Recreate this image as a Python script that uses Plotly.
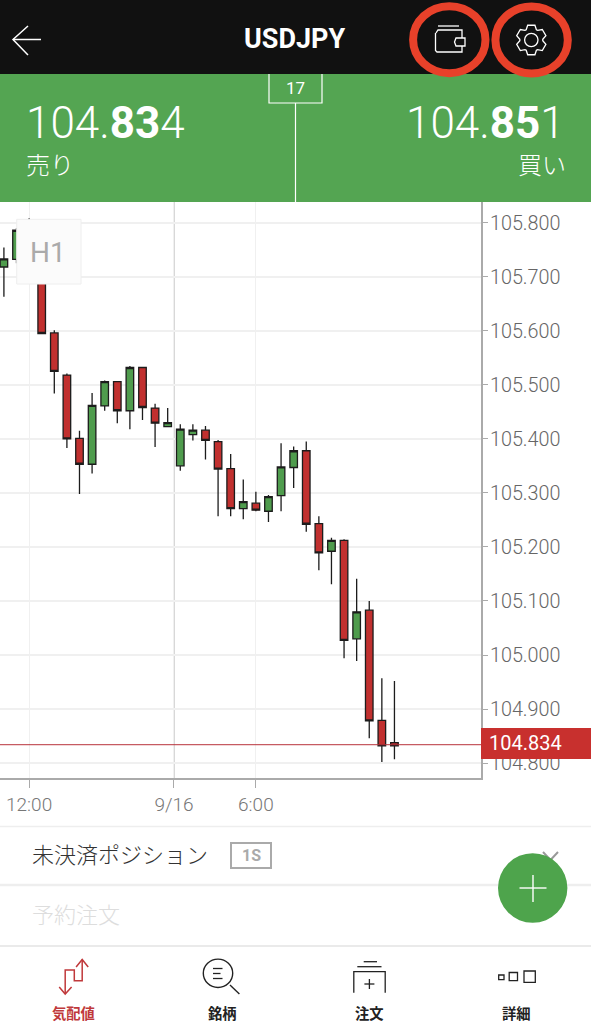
import math
import plotly.graph_objects as go

W, H = 591, 1024

# ローソク足 (H1)
candle_idx = list(range(32))
open_ = [105.718, 105.732, 105.800, 105.740, 105.596, 105.518, 105.401, 105.353,
         105.461, 105.506, 105.452, 105.532, 105.457, 105.4225, 105.350, 105.408,
         105.416, 105.395, 105.345, 105.271, 105.281, 105.266, 105.295, 105.347,
         105.378, 105.243, 105.192, 105.212, 105.030, 105.083, 104.879, 104.838]
high = [105.754, 105.790, 105.808, 105.745, 105.601, 105.521, 105.415, 105.485,
        105.508, 105.507, 105.535, 105.533, 105.465, 105.457, 105.427, 105.427,
        105.424, 105.398, 105.372, 105.325, 105.302, 105.296, 105.392, 105.386,
        105.395, 105.257, 105.217, 105.214, 105.141, 105.100, 104.957, 104.952]
low = [105.663, 105.725, 105.720, 105.595, 105.484, 105.383, 105.298, 105.336,
       105.452, 105.429, 105.418, 105.435, 105.385, 105.422, 105.341, 105.397,
       105.362, 105.257, 105.257, 105.251, 105.266, 105.246, 105.266, 105.309,
       105.228, 105.157, 105.131, 104.994, 104.989, 104.846, 104.802, 104.807]
close = [105.733, 105.786, 105.740, 105.595, 105.525, 105.400, 105.353, 105.462,
         105.506, 105.452, 105.532, 105.458, 105.429, 105.430, 105.418, 105.416,
         105.397, 105.344, 105.271, 105.284, 105.268, 105.293, 105.348, 105.378,
         105.242, 105.189, 105.212, 105.027, 105.080, 104.878, 104.832, 104.832]

price_ticks = [104.8, 104.9, 105.0, 105.1, 105.2, 105.3, 105.4, 105.5, 105.6, 105.7, 105.8]
price_labels = ["104.800", "104.900", "105.000", "105.100", "105.200", "105.300",
                "105.400", "105.500", "105.600", "105.700", "105.800"]
time_ticks = [2, 13.5, 20]
time_labels = ["12:00", "9/16", "6:00"]
day_tick = 13.5
current_price = 104.834

ROBOTO = "Roboto"
CJK = "Noto Sans CJK JP"
GREEN = "#54a552"
RED = "#c8302e"
ORANGE = "#e8412a"


def px(x):
    return x / W


def py(y):
    return 1 - y / H


def path(pts, closed=False):
    s = "M " + " L ".join(f"{px(x):.5f} {py(y):.5f}" for x, y in pts)
    return s + (" Z" if closed else "")


shapes = []
annotations = []


def rect(x0, y0, x1, y1, fill, line=None, lw=0, layer="above"):
    shapes.append(dict(type="rect", xref="paper", yref="paper", x0=px(x0), x1=px(x1),
                       y0=py(y0), y1=py(y1), fillcolor=fill, layer=layer,
                       line=dict(color=line or fill, width=lw)))


def ellipse(cx, cy, rx, ry, fill="rgba(0,0,0,0)", line=None, lw=0):
    shapes.append(dict(type="circle", xref="paper", yref="paper", x0=px(cx - rx), x1=px(cx + rx),
                       y0=py(cy - ry), y1=py(cy + ry), fillcolor=fill, layer="above",
                       line=dict(color=line or fill, width=lw)))


def stroke(pts, color, lw=1.5, closed=False):
    shapes.append(dict(type="path", xref="paper", yref="paper", path=path(pts, closed),
                       layer="above", line=dict(color=color, width=lw)))


def text(x, y, s, size, color, anchor="center", family=ROBOTO, weight=None):
    font = dict(family=family, size=size, color=color)
    if weight:
        font["weight"] = weight
    annotations.append(dict(xref="paper", yref="paper", x=px(x), y=py(y), text=s, showarrow=False,
                            xanchor=anchor, yanchor="middle", font=font, borderpad=0, borderwidth=0))


# 9/16 の濃い縦線
shapes.append(dict(type="line", xref="x", yref="paper", x0=day_tick, x1=day_tick,
                   y0=py(778), y1=py(202), layer="below", line=dict(color="#c9c9c9", width=1.5)))
# 現在値ライン
shapes.append(dict(type="line", xref="paper", yref="y", x0=0, x1=px(481),
                   y0=current_price, y1=current_price, layer="above", line=dict(color="#b8323a", width=1)))

# H1 ラベル
rect(16.7, 219.3, 81, 284, "#fbfbfb", "#eeeeee", 1)
text(47.5, 252, "H1", 28, "#aaaaaa")

# 現在値ボックス
rect(481, 728, 591, 759, RED)
text(488.5, 743, "104.834", 20, "#ffffff", "left")

# ヘッダー
rect(0, 0, 591, 74, "#111111")
rect(0, 74, 591, 202, GREEN)
stroke([(41, 39.5), (13, 39.5)], "#ffffff", 1.5)
stroke([(28, 26), (13, 39.5), (28, 55)], "#ffffff", 1.5)
text(294.5, 39, "<b>USDJPY</b>", 27, "#ffffff")

# 財布アイコン
stroke([(438, 26), (459, 26)], "#ffffff", 1.3)
stroke([(436, 33), (438, 30), (462, 30), (462, 38)], "#ffffff", 1.3)
stroke([(462, 46), (462, 52), (437, 52), (435.5, 50.5), (435.5, 33)], "#ffffff", 1.3)
stroke([(456, 38), (465, 38), (465, 46), (456, 46), (454.5, 42)], "#ffffff", 1.3, closed=True)

# 歯車アイコン
gear = []
for k in range(6):
    a = -math.pi / 2 + k * math.pi / 3
    for da, r in [(-0.46, 11.5), (-0.24, 15.2), (0.24, 15.2), (0.46, 11.5)]:
        gear.append((531.3 + r * math.cos(a + da), 40 + r * math.sin(a + da)))
stroke(gear, "#ffffff", 1.3, closed=True)
ellipse(531.3, 40, 6.7, 6.7, line="#ffffff", lw=1.3)

# 赤い丸印
ellipse(449.3, 39.7, 36.2, 33.5, line=ORANGE, lw=8)
ellipse(531.6, 39.9, 36.2, 33.5, line=ORANGE, lw=8)

# 売り / 買い
stroke([(269, 74), (269, 103), (322, 103), (322, 74)], "#ffffff", 1.2)
text(295.5, 88, "17", 17, "#ffffff")
stroke([(295.5, 103), (295.5, 202)], "#ffffff", 1.2)
text(26, 123, "104.<b>83</b>4", 44, "#ffffff", "left", weight=300)
text(565, 123, "104.<b>85</b>1", 44, "#ffffff", "right", weight=300)
text(26, 163.5, "売り", 24, "#ffffff", "left", CJK, 300)
text(566, 163.5, "買い", 24, "#ffffff", "right", CJK, 300)

# ポジション欄
stroke([(0, 826.5), (591, 826.5)], "#eeeeee", 1.5)
stroke([(0, 885), (591, 885)], "#eeeeee", 2.5)
stroke([(0, 946), (591, 946)], "#e3e3e3", 1.5)
text(32, 853, "未決済ポジション", 22, "#333333", "left", CJK, 300)
rect(231, 843, 271, 868, "#ffffff", "#aaaaaa", 2)
text(251, 855.5, "<b>1S</b>", 16, "#aaaaaa")
text(32, 913, "予約注文", 22, "#dddddd", "left", CJK, 300)
stroke([(543, 852), (550.5, 860), (558, 852)], "#999999", 2)
ellipse(532.7, 888, 34.7, 34.8, fill="#4ea44c")
stroke([(519.5, 888), (546.5, 888)], "#ffffff", 1.4)
stroke([(533, 875), (533, 902)], "#ffffff", 1.4)

# 下部タブ
TAB_RED = "#c0393b"
stroke([(65.2, 994), (65.2, 970), (74.3, 970), (74.3, 980.7), (82.2, 980.7), (82.2, 959.5)], TAB_RED, 1.5)
stroke([(59.2, 987), (65.2, 994), (71.6, 987)], TAB_RED, 1.5)
stroke([(76.1, 967), (82.2, 959.5), (88.2, 967)], TAB_RED, 1.5)
text(73.5, 1012.5, "<b>気配値</b>", 14.3, TAB_RED, family=CJK)

ellipse(218, 973.3, 14.7, 14.2, line="#222222", lw=1.4)
stroke([(230, 985), (239.4, 994)], "#222222", 1.4)
stroke([(213, 968.5), (222.5, 968.5)], "#222222", 1.3)
stroke([(213, 973.5), (220.5, 973.5)], "#222222", 1.3)
stroke([(213, 978.5), (222.5, 978.5)], "#222222", 1.3)
text(222, 1012.5, "<b>銘柄</b>", 14.3, "#222222", family=CJK)

stroke([(363.7, 961.7), (377, 961.7)], "#222222", 1.3)
stroke([(357.3, 966.7), (381.5, 966.7)], "#222222", 1.3)
stroke([(353.8, 992.7), (353.8, 971.7), (385.2, 971.7), (385.2, 992.7)], "#222222", 1.3)
stroke([(364.4, 984), (374.4, 984)], "#222222", 1.3)
stroke([(369.4, 979), (369.4, 989)], "#222222", 1.3)
text(369.4, 1012.5, "<b>注文</b>", 14.3, "#222222", family=CJK)

rect(498.7, 975, 504, 979.6, "#ffffff", "#222222", 1.3)
rect(509.2, 972.5, 517.5, 980.7, "#ffffff", "#222222", 1.3)
rect(524, 971, 535.3, 982.3, "#ffffff", "#222222", 1.3)
text(516.4, 1012.5, "<b>詳細</b>", 14.3, "#222222", family=CJK)

fig = go.Figure()
fig.add_trace(go.Candlestick(
    x=candle_idx, open=open_, high=high, low=low, close=close,
    whiskerwidth=0,
    increasing=dict(fillcolor="#4f9c4d", line=dict(color="#1c1c1c", width=1.3)),
    decreasing=dict(fillcolor="#c1302f", line=dict(color="#1c1c1c", width=1.3)),
    showlegend=False,
))

fig.update_layout(
    width=W, height=H,
    margin=dict(l=0, r=0, t=0, b=0),
    paper_bgcolor="#ffffff", plot_bgcolor="#ffffff",
    showlegend=False,
    boxgap=0.4, boxgroupgap=0,
    shapes=shapes, annotations=annotations,
    xaxis=dict(
        domain=[0, px(481)], range=[-0.31, 37.87], rangeslider=dict(visible=False),
        tickmode="array", tickvals=time_ticks, ticktext=time_labels,
        ticks="outside", ticklen=8, tickcolor="#aaaaaa", tickwidth=1,
        tickfont=dict(family=ROBOTO, size=19, color="#777777", weight=300),
        showgrid=True, gridcolor="#f0f0f0", gridwidth=1, zeroline=False,
        showline=True, linecolor="#aaaaaa", linewidth=2,
    ),
    yaxis=dict(
        domain=[py(778), py(202)], range=[104.7724, 105.8383], side="right",
        tickmode="array", tickvals=price_ticks, ticktext=price_labels,
        ticks="outside", ticklen=5, tickcolor="#aaaaaa", tickwidth=1, ticklabelstandoff=-2,
        tickfont=dict(family=ROBOTO, size=19.8, color="#666666", weight=300),
        showgrid=True, gridcolor="#f0f0f0", gridwidth=1.5, zeroline=False,
        showline=True, linecolor="#aaaaaa", linewidth=2,
    ),
)

fig.write_html("out.html", post_script="document.body.style.margin='0';document.body.style.overflow='hidden';",
               config=dict(displayModeBar=False))
